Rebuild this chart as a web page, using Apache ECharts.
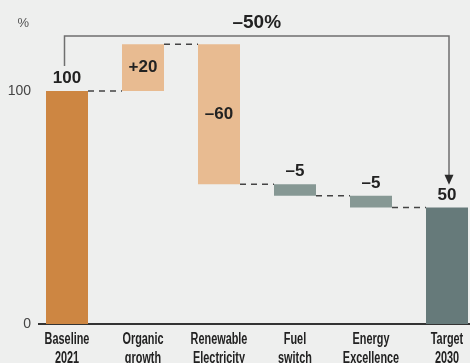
<!DOCTYPE html>
<html>
<head>
<meta charset="utf-8">
<script src="https://cdn.jsdelivr.net/npm/echarts@6/dist/echarts.min.js"></script>
<style>
  html, body { margin: 0; padding: 0; background: #eeefee; }
  #chart { width: 470px; height: 363px; }
</style>
</head>
<body>
<div id="chart"></div>
<script>
// data
var categories = ['Baseline\n2021', 'Organic\ngrowth', 'Renewable\nElectricity', 'Fuel\nswitch', 'Energy\nExcellence', 'Target\n2030'];
var values = [100, 20, -60, -5, -5, 50];
var isTotal = [true, false, false, false, false, true];
var yTicks = [0, 100];

// styles
var barColors = ['#cd8642', '#e8bb91', '#e8bb91', '#869894', '#869894', '#667a7a'];
var labelInside = [false, true, true, false, false, false];
var numFont = '"Liberation Sans", Arial, sans-serif';
var BAR_W = 42;

// waterfall: invisible base + visible height, running level after each step
var base = [], height = [], level = [];
var run = 0;
values.forEach(function (v, i) {
  if (isTotal[i]) {
    base.push(0); height.push(v); run = v;
  } else {
    var next = run + v;
    base.push(Math.min(run, next)); height.push(Math.abs(v)); run = next;
  }
  level.push(run);
});
var maxLevel = Math.max.apply(null, base.map(function (b, i) { return b + height[i]; }));

function valueText(i) {
  var v = values[i];
  if (isTotal[i]) return String(v);
  return (v > 0 ? '+' : '\u2013') + Math.abs(v);
}

var first = 0, last = values.length - 1;
var pct = Math.round((values[last] - values[first]) / values[first] * 100);
var pctText = (pct < 0 ? '\u2013' : '+') + Math.abs(pct) + '%';

var chart = echarts.init(document.getElementById('chart'));

var option = {
  animation: false,
  backgroundColor: '#eeefee',
  grid: { left: 29, top: 21, width: 456, bottom: 39, outerBoundsMode: 'none', containLabel: false },
  xAxis: {
    type: 'category',
    data: categories,
    axisLine: { show: false },
    axisTick: { show: false },
    axisLabel: { show: false }
  },
  yAxis: {
    type: 'value',
    min: 0, max: 130, interval: 100,
    name: '%',
    nameLocation: 'end',
    nameGap: -2,
    nameTextStyle: { color: '#555', fontFamily: numFont, fontSize: 13, align: 'right', verticalAlign: 'middle' },
    axisLine: { show: false },
    axisTick: { show: false },
    splitLine: { show: false },
    axisLabel: {
      margin: -2, color: '#444', fontFamily: numFont, fontSize: 14,
      formatter: function (v) { return yTicks.indexOf(v) >= 0 ? String(v) : ''; }
    }
  },
  series: [
    {
      type: 'bar', stack: 'w', barWidth: BAR_W, silent: true,
      itemStyle: { color: 'transparent' },
      data: base
    },
    {
      type: 'bar', stack: 'w', barWidth: BAR_W,
      data: height.map(function (h, i) {
        return {
          value: h,
          itemStyle: { color: barColors[i] },
          label: {
            show: true,
            position: labelInside[i] ? 'inside' : 'top',
            distance: 4,
            formatter: valueText(i),
            color: '#222', fontFamily: numFont, fontWeight: 'bold', fontSize: 17
          }
        };
      })
    },
    {
      // dashed connectors between bars
      type: 'custom', silent: true,
      data: level.slice(0, -1).map(function (l, i) { return [i, l]; }),
      renderItem: function (params, api) {
        var i = api.value(0), l = api.value(1);
        var p1 = api.coord([i, l]), p2 = api.coord([i + 1, l]);
        return {
          type: 'line',
          shape: { x1: p1[0] + BAR_W / 2, y1: p1[1], x2: p2[0] - BAR_W / 2, y2: p2[1] },
          style: { stroke: '#444', lineWidth: 1.5, lineDash: [6, 5] }
        };
      }
    },
    {
      // category names under the axis, in a condensed look
      type: 'custom', silent: true, clip: false,
      data: categories.map(function (c, i) { return [i, 0]; }),
      renderItem: function (params, api) {
        var i = api.value(0);
        var p = api.coord([i, 0]);
        return {
          type: 'text',
          x: p[0], y: p[1] + 6,
          scaleX: 0.68,
          style: {
            text: categories[i], font: 'bold 16px ' + numFont, fill: '#222',
            align: 'center', verticalAlign: 'top', lineHeight: 19
          }
        };
      }
    },
    {
      // bracket arrow baseline -> target
      type: 'custom', silent: true, clip: false,
      data: [[first, values[first]]],
      renderItem: function (params, api) {
        var topY = api.coord([first, maxLevel + 3.6])[1];
        var pL = api.coord([first, values[first] + 10.7]);
        var pR = api.coord([last, level[last] + 9.7]);
        var xL = pL[0] - 2.5, xR = pR[0] + 2;
        return {
          type: 'group',
          children: [
            {
              type: 'polyline',
              shape: { points: [[xL, pL[1]], [xL, topY], [xR, topY], [xR, pR[1] - 9]] },
              style: { stroke: '#6f6f6f', lineWidth: 1.5, fill: null }
            },
            {
              type: 'polygon',
              shape: { points: [[xR - 4.5, pR[1] - 10], [xR + 4.5, pR[1] - 10], [xR, pR[1]]] },
              style: { fill: '#2b2b2b' }
            },
            {
              type: 'text',
              x: (xL + xR) / 2, y: topY - 13,
              style: {
                text: pctText, font: 'bold 19px ' + numFont, fill: '#222',
                align: 'center', verticalAlign: 'middle'
              }
            }
          ]
        };
      }
    }
  ]
};

chart.setOption(option);

// baseline axis line
var y0 = chart.convertToPixel({ yAxisIndex: 0 }, 0);
chart.setOption({
  graphic: [{
    type: 'line', silent: true,
    shape: { x1: 38, y1: y0, x2: 470, y2: y0 },
    style: { stroke: '#333', lineWidth: 2 }
  }]
});
</script>
</body>
</html>
